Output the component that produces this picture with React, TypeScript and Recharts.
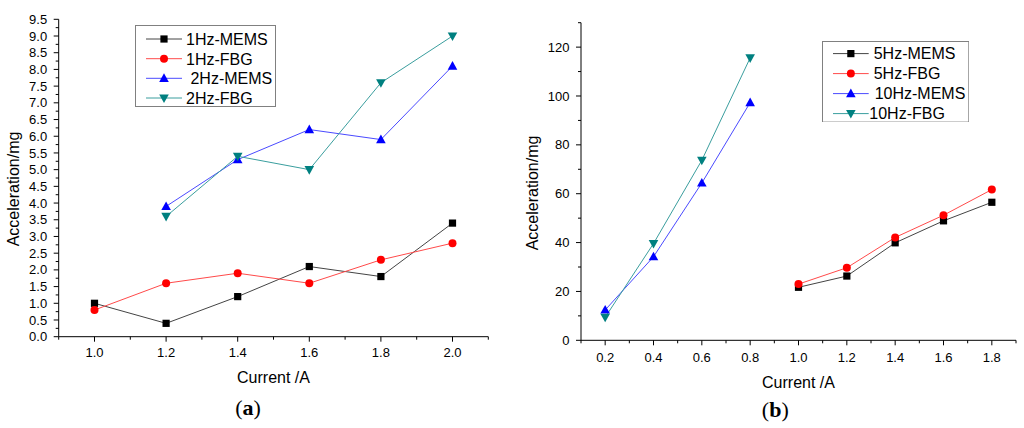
import React from "react";
import { LineChart, Line, XAxis, YAxis, Legend } from "recharts";

// panel (a): low currents, 1 Hz and 2 Hz
const CURRENT_A = [1.0, 1.2, 1.4, 1.6, 1.8, 2.0];
const MEMS_1HZ = [1.0, 0.4, 1.2, 2.1, 1.8, 3.4];
const FBG_1HZ = [0.8, 1.6, 1.9, 1.6, 2.3, 2.8];
const MEMS_2HZ = [null, 3.9, 5.3, 6.2, 5.9, 8.1];
const FBG_2HZ = [null, 3.6, 5.4, 5.0, 7.6, 9.0];

// panel (b): 5 Hz and 10 Hz
const CURRENT_B = [0.2, 0.4, 0.6, 0.8, 1.0, 1.2, 1.4, 1.6, 1.8];
const MEMS_5HZ = [null, null, null, null, 21.7, 26.3, 39.9, 48.9, 56.5];
const FBG_5HZ = [null, null, null, null, 23.0, 29.7, 42.1, 51.2, 61.7];
const MEMS_10HZ = [12.4, 34.2, 64.4, 97.3, null, null, null, null, null];
const FBG_10HZ = [9.4, 39.6, 73.7, 115.6, null, null, null, null, null];

// ticks
const XA_MAJOR = [1.0, 1.2, 1.4, 1.6, 1.8, 2.0];
const XA_MINOR = [0.9, 1.1, 1.3, 1.5, 1.7, 1.9, 2.1];
const YA_MAJOR = [0, 0.5, 1, 1.5, 2, 2.5, 3, 3.5, 4, 4.5, 5, 5.5, 6, 6.5, 7, 7.5, 8, 8.5, 9, 9.5];
const YA_MINOR = [0.25, 0.75, 1.25, 1.75, 2.25, 2.75, 3.25, 3.75, 4.25, 4.75, 5.25, 5.75, 6.25, 6.75, 7.25, 7.75, 8.25, 8.75, 9.25];
const XB_MAJOR = [0.2, 0.4, 0.6, 0.8, 1.0, 1.2, 1.4, 1.6, 1.8];
const XB_MINOR = [0.1, 0.3, 0.5, 0.7, 0.9, 1.1, 1.3, 1.5, 1.7, 1.9];
const YB_MAJOR = [0, 20, 40, 60, 80, 100, 120];
const YB_MINOR = [10, 30, 50, 70, 90, 110, 130];

const dataA = CURRENT_A.map((x, i) => ({
  x,
  mems1: MEMS_1HZ[i],
  fbg1: FBG_1HZ[i],
  mems2: MEMS_2HZ[i],
  fbg2: FBG_2HZ[i],
}));

const dataB = CURRENT_B.map((x, i) => ({
  x,
  mems5: MEMS_5HZ[i],
  fbg5: FBG_5HZ[i],
  mems10: MEMS_10HZ[i],
  fbg10: FBG_10HZ[i],
}));

const FONT = '"Liberation Sans", Arial, sans-serif';

type Shape = "square" | "circle" | "up" | "down";

const SERIES_A = [
  { key: "mems1", name: "1Hz-MEMS", color: "#000000", line: "#444444", shape: "square" as Shape },
  { key: "fbg1", name: "1Hz-FBG", color: "#ff0000", line: "#ff4a4a", shape: "circle" as Shape },
  { key: "mems2", name: " 2Hz-MEMS", color: "#0000ff", line: "#4a4aff", shape: "up" as Shape },
  { key: "fbg2", name: "2Hz-FBG", color: "#008080", line: "#3a9e9e", shape: "down" as Shape },
];

const SERIES_B = [
  { key: "mems5", name: "5Hz-MEMS", color: "#000000", line: "#444444", shape: "square" as Shape },
  { key: "fbg5", name: "5Hz-FBG", color: "#ff0000", line: "#ff4a4a", shape: "circle" as Shape },
  { key: "mems10", name: "10Hz-MEMS", color: "#0000ff", line: "#4a4aff", shape: "up" as Shape },
  { key: "fbg10", name: "10Hz-FBG", color: "#008080", line: "#3a9e9e", shape: "down" as Shape },
];

function Marker({ cx, cy, shape, color }: { cx: number; cy: number; shape: Shape; color: string }) {
  if (shape === "square") return <rect x={cx - 3.6} y={cy - 3.6} width={7.2} height={7.2} fill={color} />;
  if (shape === "circle") return <circle cx={cx} cy={cy} r={4} fill={color} />;
  if (shape === "up")
    return <polygon points={`${cx},${cy - 5} ${cx - 4.8},${cy + 3.6} ${cx + 4.8},${cy + 3.6}`} fill={color} />;
  return <polygon points={`${cx},${cy + 5} ${cx - 4.8},${cy - 3.6} ${cx + 4.8},${cy - 3.6}`} fill={color} />;
}

const dotFor = (shape: Shape, color: string) => (props: any) => {
  const { cx, cy, index } = props;
  if (cx == null || cy == null || Number.isNaN(cy)) return <g key={index} />;
  return (
    <g key={index}>
      <Marker cx={cx} cy={cy} shape={shape} color={color} />
    </g>
  );
};

const XTick = (major: number[], dy: number) => (props: any) => {
  const { x, y, payload } = props;
  const isMajor = major.some((m) => Math.abs(m - payload.value) < 1e-6);
  return (
    <g>
      <line x1={x} x2={x} y1={y} y2={y + (isMajor ? 5 : 3)} stroke="#000" />
      {isMajor && (
        <text x={x} y={y + dy} textAnchor="middle" fontSize={13} fontFamily={FONT} fill="#000">
          {Number(payload.value).toFixed(1)}
        </text>
      )}
    </g>
  );
};

const YTick = (major: number[], digits: number, gap: number) => (props: any) => {
  const { x, y, payload } = props;
  const isMajor = major.some((m) => Math.abs(m - payload.value) < 1e-6);
  return (
    <g>
      <line x1={x} x2={x - (isMajor ? 5 : 3)} y1={y} y2={y} stroke="#000" />
      {isMajor && (
        <text x={x - gap} y={y + 4.6} textAnchor="end" fontSize={13} fontFamily={FONT} fill="#000">
          {Number(payload.value).toFixed(digits)}
        </text>
      )}
    </g>
  );
};

function LegendBox({
  series,
  width,
  height,
  rows,
  lineX,
  textX,
}: {
  series: typeof SERIES_A;
  width: number;
  height: number;
  rows: number[];
  lineX: [number, number];
  textX: number[];
}) {
  return (
    <svg width={width} height={height} style={{ display: "block" }}>
      <rect x={0.5} y={0.5} width={width - 1} height={height - 1} fill="#fff" stroke="#808080" />
      {series.map((s, i) => (
        <g key={s.key}>
          <line x1={lineX[0]} x2={lineX[1]} y1={rows[i]} y2={rows[i]} stroke={s.line} />
          <Marker cx={(lineX[0] + lineX[1]) / 2} cy={rows[i]} shape={s.shape} color={s.color} />
          <text
            x={textX[i]}
            y={rows[i] + 5.8}
            fontSize={16}
            fontFamily={FONT}
            fill="#000"
            style={{ whiteSpace: "pre" }}
          >
            {s.name}
          </text>
        </g>
      ))}
    </svg>
  );
}

const titleStyle: React.CSSProperties = {
  position: "absolute",
  fontFamily: FONT,
  fontSize: 16,
  color: "#000",
  whiteSpace: "nowrap",
  transform: "translate(-50%, -50%)",
};

const panelStyle: React.CSSProperties = {
  position: "absolute",
  fontFamily: '"Liberation Serif", "Times New Roman", serif',
  fontSize: 22,
  color: "#000",
  whiteSpace: "nowrap",
  transform: "translate(-50%, -50%)",
};

export default function App() {
  return (
    <div style={{ position: "absolute", left: 0, top: 0, width: 1024, height: 428, background: "#fff", overflow: "hidden" }}>
      <div style={{ position: "absolute", left: 0, top: 0 }}>
        <LineChart width={512} height={428} data={dataA} margin={{ top: 19.3, right: 23.7, left: 0, bottom: 61.3 }}>
          <XAxis
            dataKey="x"
            type="number"
            domain={[0.9, 2.1]}
            ticks={[...XA_MINOR, ...XA_MAJOR].sort((a, b) => a - b)}
            interval={0}
            height={30}
            tickSize={0}
            tickMargin={0}
            tickLine={false}
            axisLine={{ stroke: "#000" }}
            tick={XTick(XA_MAJOR, 20.5)}
          />
          <YAxis
            type="number"
            domain={[0, 9.5]}
            ticks={[...YA_MINOR, ...YA_MAJOR].sort((a, b) => a - b)}
            interval={0}
            width={58.7}
            tickSize={0}
            tickMargin={0}
            tickLine={false}
            axisLine={{ stroke: "#000" }}
            tick={YTick(YA_MAJOR, 1, 11.5)}
          />
          {SERIES_A.map((s) => (
            <Line
              key={s.key}
              dataKey={s.key}
              name={s.name}
              stroke={s.line}
              strokeWidth={1}
              dot={dotFor(s.shape, s.color)}
              activeDot={false}
              isAnimationActive={false}
            />
          ))}
          <Legend
            layout="vertical"
            align="center"
            verticalAlign="middle"
            wrapperStyle={{ left: 135, top: 25, width: 141, height: 82 }}
            content={() => (
              <LegendBox
                series={SERIES_A}
                width={141}
                height={82}
                rows={[14, 33.7, 53.3, 73]}
                lineX={[11, 47]}
                textX={[51, 51, 51, 51]}
              />
            )}
          />
        </LineChart>
      </div>

      <div style={{ position: "absolute", left: 512, top: 0 }}>
        <LineChart width={512} height={428} data={dataB} margin={{ top: 22.7, right: 8, left: 0, bottom: 57.7 }}>
          <XAxis
            dataKey="x"
            type="number"
            domain={[0.1, 1.9]}
            ticks={[...XB_MINOR, ...XB_MAJOR].sort((a, b) => a - b)}
            interval={0}
            height={30}
            tickSize={0}
            tickMargin={0}
            tickLine={false}
            axisLine={{ stroke: "#000" }}
            tick={XTick(XB_MAJOR, 21.5)}
          />
          <YAxis
            type="number"
            domain={[0, 130]}
            ticks={[...YB_MINOR, ...YB_MAJOR].sort((a, b) => a - b)}
            interval={0}
            width={69}
            tickSize={0}
            tickMargin={0}
            tickLine={false}
            axisLine={{ stroke: "#000" }}
            tick={YTick(YB_MAJOR, 0, 11.5)}
          />
          {SERIES_B.map((s) => (
            <Line
              key={s.key}
              dataKey={s.key}
              name={s.name}
              stroke={s.line}
              strokeWidth={1}
              dot={dotFor(s.shape, s.color)}
              activeDot={false}
              isAnimationActive={false}
            />
          ))}
          <Legend
            layout="vertical"
            align="center"
            verticalAlign="middle"
            wrapperStyle={{ left: 310, top: 40.7, width: 147.3, height: 81.6 }}
            content={() => (
              <LegendBox
                series={SERIES_B}
                width={147.3}
                height={81.6}
                rows={[12.6, 32.6, 52.6, 72.6]}
                lineX={[11, 46.7]}
                textX={[51.7, 51.7, 52.7, 47.3]}
              />
            )}
          />
        </LineChart>
      </div>

      <div style={{ ...titleStyle, left: 273.5, top: 378 }}>Current /A</div>
      <div style={{ ...titleStyle, left: 14, top: 189, transform: "translate(-50%, -50%) rotate(-90deg)" }}>
        Acceleration/mg
      </div>
      <div style={{ ...titleStyle, left: 798.5, top: 382.7 }}>Current /A</div>
      <div style={{ ...titleStyle, left: 532.7, top: 192.5, transform: "translate(-50%, -50%) rotate(-90deg)" }}>
        Acceleration/mg
      </div>

      <div style={{ ...panelStyle, left: 248, top: 408 }}>
        (<b>a</b>)
      </div>
      <div style={{ ...panelStyle, left: 775.3, top: 410 }}>
        (<b>b</b>)
      </div>
    </div>
  );
}
